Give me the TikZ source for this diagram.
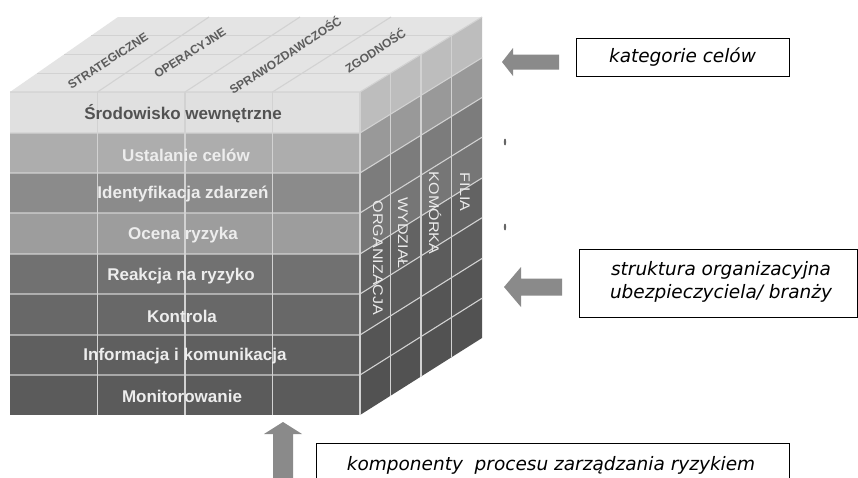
\documentclass[tikz,border=0pt]{standalone}
\usepackage{fontspec}
\setmainfont{Liberation Sans}
\newfontfamily\boxfont{DejaVu Sans}[ItalicFont={DejaVu Sans Oblique}]
\definecolor{gridc}{HTML}{D2D2D2}
\definecolor{topc}{HTML}{E4E4E4}
\definecolor{topt}{HTML}{5C5C5C}
\definecolor{arrowc}{HTML}{8A8A8A}
\definecolor{fA}{HTML}{E0E0E0}
\definecolor{fB}{HTML}{ADADAD}
\definecolor{fC}{HTML}{8B8B8B}
\definecolor{fD}{HTML}{9D9D9D}
\definecolor{fE}{HTML}{717171}
\definecolor{fF}{HTML}{686868}
\definecolor{fG}{HTML}{5F5F5F}
\definecolor{fH}{HTML}{5B5B5B}
\definecolor{sA}{HTML}{BDBDBD}
\definecolor{sB}{HTML}{999999}
\definecolor{sC}{HTML}{7C7C7C}
\definecolor{sD}{HTML}{767676}
\definecolor{sE}{HTML}{636363}
\definecolor{sF}{HTML}{5C5C5C}
\definecolor{sG}{HTML}{555555}
\definecolor{sH}{HTML}{525252}
\begin{document}
\begin{tikzpicture}[x=1pt,y=-1pt,
  gridline/.style={draw=gridc, line width=1.1pt},
  frontlabel/.style={font=\fontsize{17}{18}\selectfont\bfseries, text=white!93!black, inner sep=0},
  toplabel/.style={font=\fontsize{12}{13}\selectfont\bfseries, text=topt, rotate=33, inner sep=0},
  sidelabel/.style={font=\fontsize{14}{15}\selectfont, text=white!92!black, rotate=-90, inner sep=0},
  infobox/.style={draw=black, line width=0.9pt, fill=white, inner sep=0},
  infotext/.style={font=\boxfont\itshape\fontsize{18.5}{23}\selectfont, align=center, inner sep=0},
  blockarrow/.style={fill=arrowc, draw=none}]
\useasboundingbox (0,0) rectangle (858,477);
\clip (0,0) rectangle (858,477);
\fill[white] (0,0) rectangle (858,477);

% top face
\fill[topc] (10,92) -- (360,92) -- (482,17) -- (118,17) -- cycle;
% front and side rows
\foreach \a/\b/\fc/\sc in {92/133/fA/sA,133/173/fB/sB,173/213/fC/sC,213/254/fD/sD,254/294/fE/sE,294/335/fF/sF,335/375/fG/sG,375/415/fH/sH}{
  \fill[\fc] (10,\a) rectangle (360,\b);
  \fill[\sc] (360,\a) -- (482,{17+(\a-92)*0.9938}) -- (482,{17+(\b-92)*0.9938}) -- (360,\b) -- cycle;
}
% grid: top face and side depth lines
\foreach \v in {0.25,0.5,0.75}{
  \draw[gridline] ({10+108*\v},{92-75*\v}) -- ({360+122*\v},{92-75*\v});
  \draw[gridline] ({360+122*\v},{92-75*\v}) -- ({360+122*\v},{415-77*\v});
}
\foreach \u in {0.25,0.5,0.75}{
  \draw[gridline] ({10+350*\u},92) -- ({118+364*\u},17);
  \draw[gridline] ({10+350*\u},92) -- ({10+350*\u},415);
}
% grid: front and side row lines
\foreach \y in {133,173,213,254,294,335,375}{
  \draw[gridline] (10,\y) -- (360,\y) -- (482,{17+(\y-92)*0.9938});
}
\draw[gridline] (10,92) -- (360,92) -- (482,17);
\draw[gridline] (360,92) -- (360,415);

% front labels
\node[frontlabel, text=black!68] (l1) at (183,114) {Środowisko wewnętrzne};
\node[frontlabel] (l2) at (186,155) {Ustalanie celów};
\node[frontlabel] (l3) at (183,194) {Identyfikacja zdarzeń};
\node[frontlabel] (l4) at (183,235) {Ocena ryzyka};
\node[frontlabel] (l5) at (181,276) {Reakcja na ryzyko};
\node[frontlabel] (l6) at (182,316) {Kontrola};
\node[frontlabel] (l7) at (185,356) {Informacja i komunikacja};
\node[frontlabel] (l8) at (182,396) {Monitorowanie};

% top labels
\node[toplabel] (t1) at (108,61) {STRATEGICZNE};
\node[toplabel] (t2) at (190,53) {OPERACYJNE};
\node[toplabel] (t3) at (285,55) {SPRAWOZDAWCZOŚĆ};
\node[toplabel] (t4) at (375,50) {ZGODNOŚĆ};

% side labels
\node[sidelabel] (s1) at (378,258) {\scalebox{1.15}[1]{ORGANIZACJA}};
\node[sidelabel] (s2) at (403,233) {\scalebox{1.15}[1]{WYDZIAŁ}};
\node[sidelabel] (s3) at (435,213) {\scalebox{1.15}[1]{KOMÓRKA}};
\node[sidelabel] (s4) at (465,192) {\scalebox{1.15}[1]{FILIA}};

% small marks
\fill[black!60] (505,142) ellipse (1.2 and 3.5);
\fill[black!60] (505,227) ellipse (1.2 and 3.5);

% arrows
\fill[blockarrow] (502,62) -- (513,48) -- (513,54.5) -- (559,54.5) -- (559,69.5) -- (513,69.5) -- (513,76) -- cycle;
\fill[blockarrow] (504,287) -- (521,267) -- (521,278.5) -- (562,278.5) -- (562,295.5) -- (521,295.5) -- (521,307) -- cycle;
\fill[blockarrow] (283,422) -- (302,434) -- (293,434) -- (293,485) -- (273,485) -- (273,434) -- (264,434) -- cycle;

% boxes
\node[infobox, infotext, minimum width=213pt, minimum height=38pt] (kat) at (682.5,57) {kategorie celów};
\node[infobox, minimum width=278pt, minimum height=68pt] (str) at (718,283) {};
\node[infotext] (strt) at (721,282) {struktura organizacyjna\\ubezpieczyciela/ branży};
\node[infobox, minimum width=473pt, minimum height=60pt, anchor=north] (komp) at (552.5,443) {};
\node[infotext, anchor=base] (kompt) at (551,470) {komponenty\ \ procesu zarządzania ryzykiem};
\end{tikzpicture}
\end{document}
